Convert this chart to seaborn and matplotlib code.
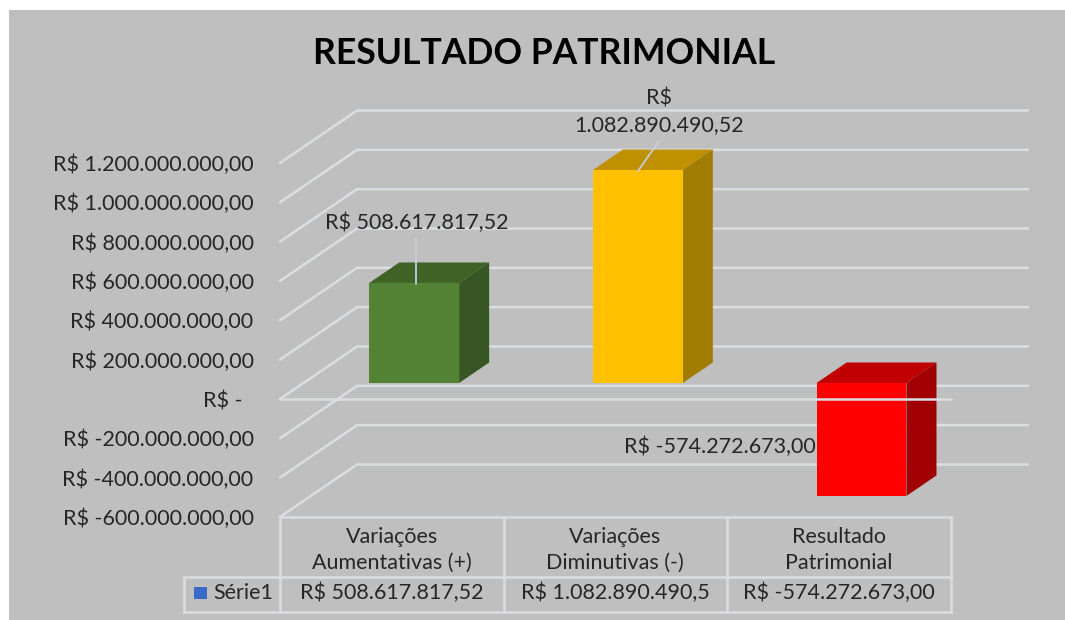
import matplotlib
matplotlib.use("Agg")
import matplotlib.pyplot as plt
from matplotlib.patches import Polygon, Rectangle
import seaborn as sns
import pandas as pd

categorias = ["Variações\nAumentativas (+)", "Variações\nDiminutivas (-)", "Resultado\nPatrimonial"]
valores = [508617817.52, 1082890490.52, -574272673.00]
tabela_valores = ["R$ 508.617.817,52", "R$ 1.082.890.490,5", "R$ -574.272.673,00"]
rotulos = ["R$ 508.617.817,52", "R$\n1.082.890.490,52", "R$ -574.272.673,00"]
ticks = [-600e6, -400e6, -200e6, 0, 200e6, 400e6, 600e6, 800e6, 1000e6, 1200e6]
tick_labels = ["R$ -600.000.000,00", "R$ -400.000.000,00", "R$ -200.000.000,00", "R$ -\u00a0\u00a0",
               "R$ 200.000.000,00", "R$ 400.000.000,00", "R$ 600.000.000,00", "R$ 800.000.000,00",
               "R$ 1.000.000.000,00", "R$ 1.200.000.000,00"]
cores = ["#548235", "#FFC000", "#FF0000"]
cores_topo = ["#3F6226", "#BF9000", "#C00000"]
cores_lado = ["#375623", "#A07C00", "#A00000"]

FUNDO = "#BFBFBF"
GRADE = "#DADDE2"
TEXTO = "#262626"
FONTE = 15.5
W, H = 1065, 620

sns.set_theme(style="white", font="Lato")
fig = plt.figure(figsize=(W / 100, H / 100), dpi=100, facecolor="white")

# fundo do grafico
over = fig.add_axes([0, 0, 1, 1], zorder=3)
over.set_xlim(0, W)
over.set_ylim(H, 0)
over.axis("off")
over.patch.set_alpha(0)
fig.patches.append(Rectangle((9 / W, 0), (W - 9) / W, (H - 10) / H, transform=fig.transFigure,
                             facecolor=FUNDO, edgecolor="none", zorder=-5))

# o plano frontal do grafico 3D
ax = fig.add_axes([280 / W, 1 - 517 / H, 671 / W, 354 / H], zorder=2)
ax.patch.set_alpha(0)

df = pd.DataFrame({"categoria": categorias, "valor": valores})
sns.barplot(data=df, x="categoria", y="valor", hue="categoria", palette=cores, legend=False,
            width=0.402, saturation=1, linewidth=0, edgecolor="none", ax=ax, zorder=3)

ax.set_xlim(-0.5, 2.5)
ax.set_ylim(ticks[0], ticks[-1])
ax.set_yticks(ticks)
ax.set_yticklabels(tick_labels, fontsize=FONTE, color=TEXTO)
ax.set_xticks([])
ax.set_xlabel("")
ax.set_ylabel("")
ax.tick_params(axis="y", length=0, pad=19)
sns.despine(ax=ax, left=True, bottom=True)

# profundidade em unidades dos dados
parede_dx = 77 / 223.67
parede_dy = 52.5 / 39.33 * 200e6
frac_x = 0.29
frac_y = 0.305
frac_prof = 0.39

# grades da parede do fundo e da lateral
for t in ticks:
    ax.plot([-0.5, -0.5 + parede_dx, 2.5 + parede_dx], [t, t + parede_dy, t + parede_dy],
            color=GRADE, lw=1.8, clip_on=False, zorder=1, solid_joinstyle="miter")

# barras com lados e topo
for i, p in enumerate(ax.patches):
    p.set_x(p.get_x() + parede_dx * frac_x)
    p.set_y(p.get_y() + parede_dy * frac_y)
    x0, x1 = p.get_x(), p.get_x() + p.get_width()
    y0, y1 = sorted([p.get_y(), p.get_y() + p.get_height()])
    dx, dy = parede_dx * frac_prof, parede_dy * frac_prof
    ax.add_patch(Polygon([(x0, y1), (x1, y1), (x1 + dx, y1 + dy), (x0 + dx, y1 + dy)],
                         facecolor=cores_topo[i], edgecolor="none", clip_on=False, zorder=2))
    ax.add_patch(Polygon([(x1, y0), (x1 + dx, y0 + dy), (x1 + dx, y1 + dy), (x1, y1)],
                         facecolor=cores_lado[i], edgecolor="none", clip_on=False, zorder=2))
    p.set_clip_on(False)

# linha do zero passa por cima das barras
ax.plot([-0.5, 2.5], [0, 0], color=GRADE, lw=1.8, clip_on=False, zorder=5)

# rotulos de dados
over.plot([416, 416], [239, 284], color="#C3CFDA", lw=1.3)
over.plot([659, 638], [141, 171], color="#C3CFDA", lw=1.3)
over.text(417, 223, rotulos[0], ha="center", va="center", fontsize=FONTE, color=TEXTO)
over.text(659, 112, rotulos[1], ha="center", va="center", fontsize=FONTE, color=TEXTO, linespacing=1.4)
over.text(816, 447, rotulos[2], ha="right", va="center", fontsize=FONTE, color=TEXTO)

# tabela de dados
xs = [280, 503.7, 727, 951]
linhas = [([280, 951], [517, 517]), ([184, 951], [577, 577]), ([184, 951], [612, 612]),
          ([184, 184], [577, 612])]
linhas += [([x, x], [517, 612]) for x in xs]
for lx, ly in linhas:
    over.plot(lx, ly, color=GRADE, lw=1.8, solid_capstyle="projecting")
for i in range(3):
    cx = (xs[i] + xs[i + 1]) / 2
    a, b = categorias[i].split("\n")
    over.text(cx, 537, a, ha="center", va="center", fontsize=FONTE, color=TEXTO)
    over.text(cx, 563, b, ha="center", va="center", fontsize=FONTE, color=TEXTO)
    over.text(cx, 593, tabela_valores[i], ha="center", va="center", fontsize=FONTE, color=TEXTO)
over.add_patch(Rectangle((193.5, 587), 13, 12, facecolor="#3A6BC8", edgecolor="none"))
over.text(213, 593, "Série1", ha="left", va="center", fontsize=FONTE, color=TEXTO)

over.text(544, 54, "RESULTADO PATRIMONIAL", ha="center", va="center", fontsize=25.6,
          fontweight="bold", color="black")

fig.savefig("out.png", dpi=100)
